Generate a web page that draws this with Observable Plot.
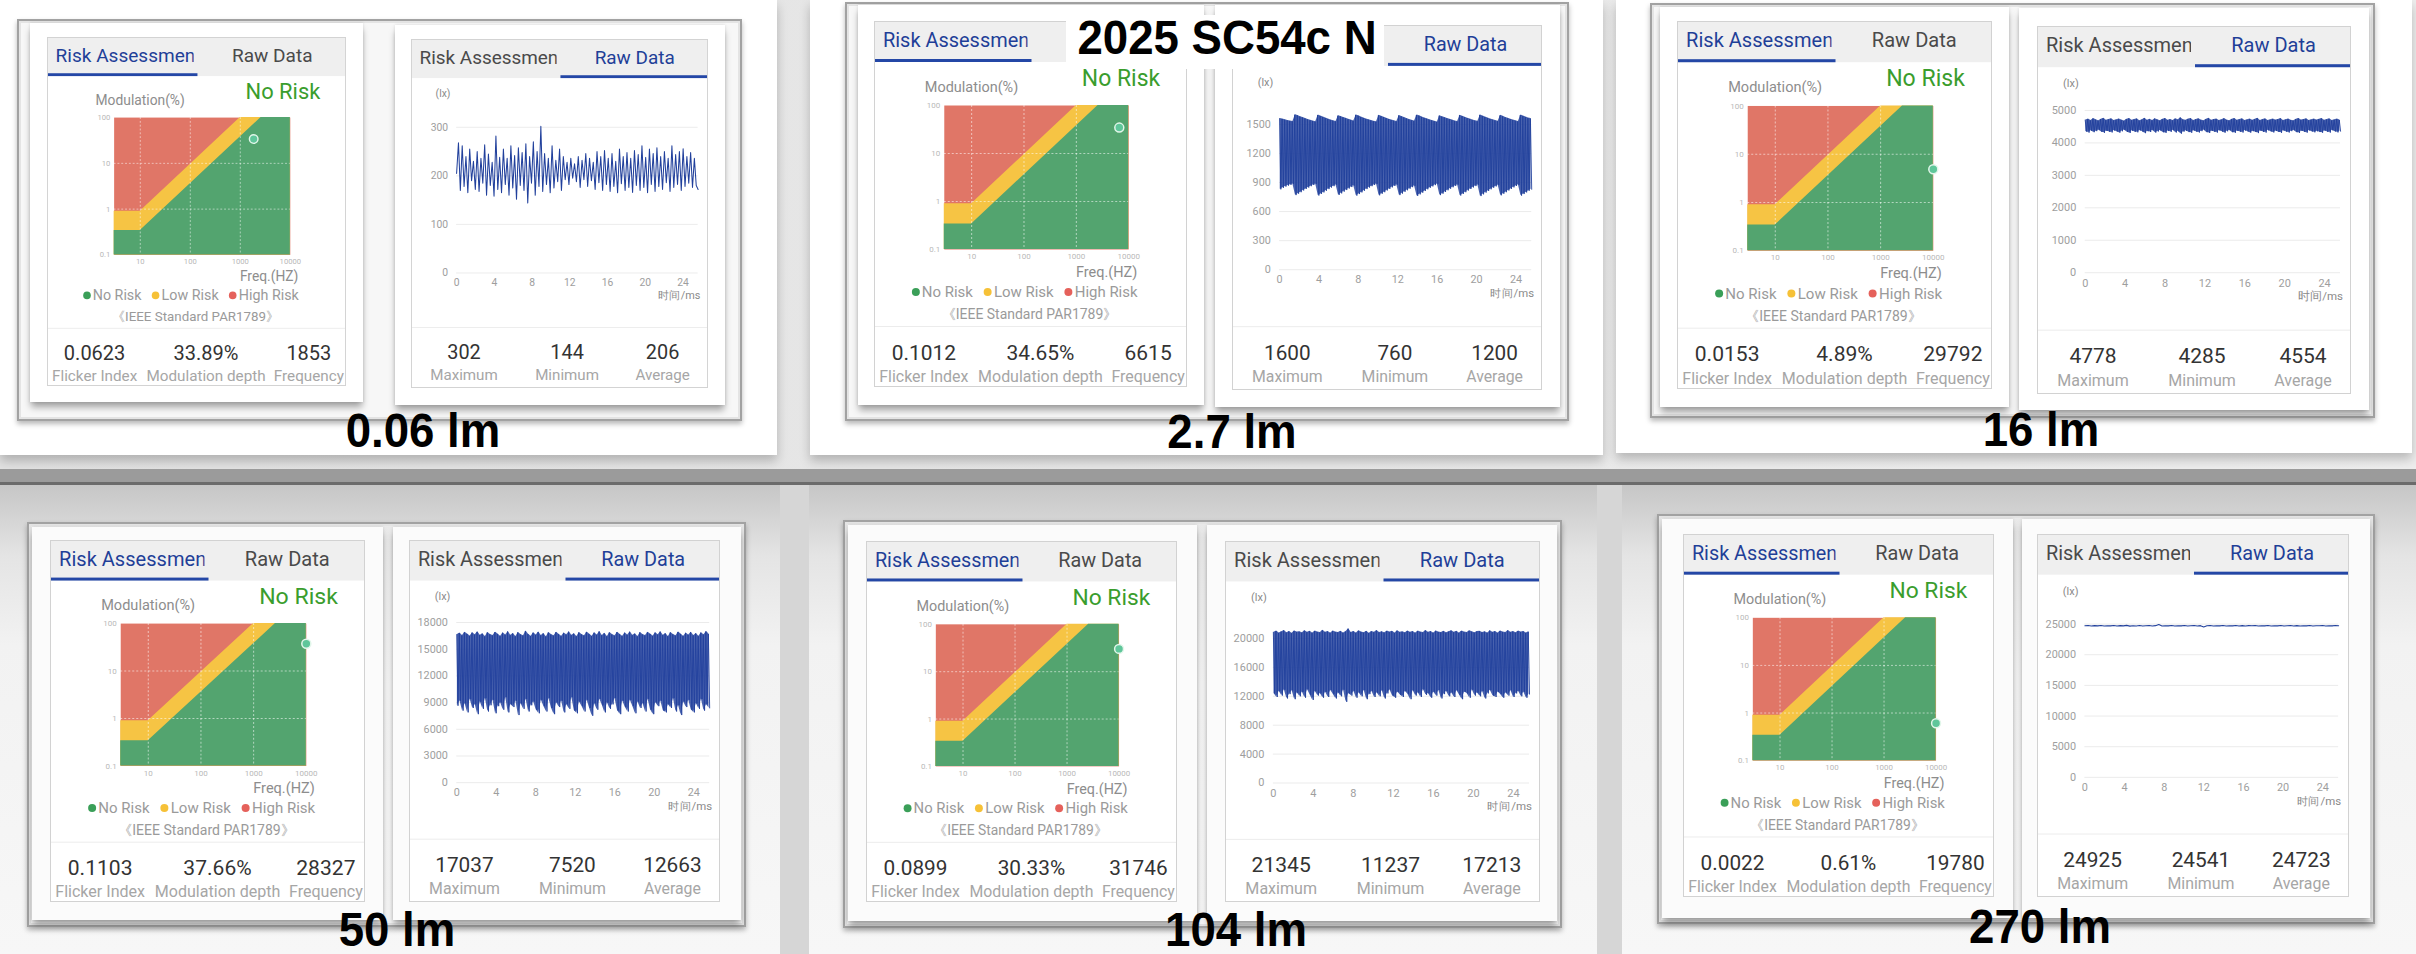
<!DOCTYPE html>
<html><head><meta charset="utf-8">
<script src="https://cdn.jsdelivr.net/npm/d3@7"></script>
<script src="https://cdn.jsdelivr.net/npm/@observablehq/plot@0.6"></script>
<style>
body{margin:0;width:2416px;height:954px;overflow:hidden;background:#e6e6e6;font-family:Roboto,"Noto Sans",sans-serif;}
#page{position:relative;width:2416px;height:954px;overflow:hidden;}
.a{position:absolute;box-sizing:border-box;}
.frame{border:2.5px solid #a2a2a2;box-shadow:inset 0 0 0 2px #e4e4e4,0 3px 5px rgba(0,0,0,.28);}
.wcard{background:#fff;box-shadow:0 6px 7px -1px rgba(0,0,0,.35),0 0 3px rgba(0,0,0,.12);}
.card{position:absolute;width:314px;height:366px;background:#fff;border:1.5px solid #d2d2d2;box-sizing:border-box;transform-origin:0 0;overflow:hidden;}
.hdr{position:absolute;left:0;top:0;width:100%;height:40px;background:#efefef;}
.tab{position:absolute;top:0;height:40px;width:157px;white-space:nowrap;font-size:20px;line-height:37px;color:#4a4a4a;box-sizing:border-box;}
.tab.l{left:0;padding-left:8px;}
.tab.r{left:157px;text-align:center;}
.tab.on{color:#1f3f98;border-bottom:3px solid #2447a6;}
.clip{width:145px;overflow:hidden;}
.t{position:absolute;white-space:nowrap;line-height:1;}
.c{transform:translate(-50%,-50%);}
.sep{position:absolute;left:0;width:100%;height:1px;background:#ececec;}
.dot{display:inline-block;width:8px;height:8px;border-radius:50%;margin-right:2px;vertical-align:1px;}
.lab{position:absolute;font-family:"Liberation Sans",Arial,sans-serif;font-weight:bold;font-size:48px;line-height:1;color:#000;white-space:nowrap;}
svg{overflow:visible;}
</style></head>
<body><div id="page"></div>
<script>
// ---------- data ----------
const lumens = ["0.06 lm", "2.7 lm", "16 lm", "50 lm", "104 lm", "270 lm"];
const riskLevel = ["No Risk", "No Risk", "No Risk", "No Risk", "No Risk", "No Risk"];
const flickerIndex = ["0.0623", "0.1012", "0.0153", "0.1103", "0.0899", "0.0022"];
const modDepth = [33.89, 34.65, 4.89, 37.66, 30.33, 0.61];
const frequency = [1853, 6615, 29792, 28327, 31746, 19780];
const maxLx = [302, 1600, 4778, 17037, 21345, 24925];
const minLx = [144, 760, 4285, 7520, 11237, 24541];
const avgLx = [206, 1200, 4554, 12663, 17213, 24723];
const rawTicks = [
  [0, 100, 200, 300],
  [0, 300, 600, 900, 1200, 1500],
  [0, 1000, 2000, 3000, 4000, 5000],
  [0, 3000, 6000, 9000, 12000, 15000, 18000],
  [0, 4000, 8000, 12000, 16000, 20000],
  [0, 5000, 10000, 15000, 20000, 25000]
];
const rawTop = [318, 1667, 5017, 18000, 22100, 26200];
const timeTicks = [0, 4, 8, 12, 16, 20, 24];
const timeSpan = 25.6;
const riskXTicks = [3, 10, 100, 1000, 10000];
const riskYTicks = [0.1, 1, 10, 100];
const lowRiskFreq = [3, 10, 1000, 10000];
const lowRiskMod = [0.9, 0.9, 100, 100];
const noRiskFreq = [3, 10, 2600, 10000];
const noRiskMod = [0.34, 0.34, 100, 100];
const riskGridX = [10, 100, 1000];
const riskGridY = [1, 10];

const wave006 = [205,268,170,262,178,240,165,255,190,230,172,250,168,236,185,264,160,245,180,228,158,282,172,238,165,255,182,236,160,262,175,242,152,258,180,248,170,266,144,240,185,270,160,250,178,302,168,246,182,236,165,262,175,232,188,255,170,240,192,228,182,236,195,225,188,240,176,232,192,246,178,236,190,228,172,250,186,240,170,252,182,236,168,246,178,230,165,255,184,240,170,248,176,236,166,252,180,244,170,262,176,238,165,255,182,246,168,258,178,240,172,250,186,236,168,262,176,244,182,250,170,256,178,240,185,248,176,236,180,172];
const hi27 = [1560,1555,1548,1540,1535,1530,1600,1592,1580,1570,1560,1550,1542,1535,1528,1596,1586,1575,1565,1555,1546,1538,1530,1590,1582,1572,1562,1552,1544,1536,1598,1588,1576,1566,1556,1548,1540,1532,1526,1594,1584,1574,1564,1554,1545,1537,1530,1592,1582,1570,1560,1550,1542,1534,1597,1588,1577,1567,1557,1548,1540,1532,1525,1590,1580,1570,1561,1552,1544,1536,1529,1595,1585,1574,1564,1555,1546,1538,1531,1598,1587,1576,1566,1556,1547,1539,1532,1593,1583,1572,1562,1553,1545,1537,1530,1596,1586,1575,1565,1560];
const lo27 = [830,845,858,868,876,884,770,785,800,818,833,848,862,874,884,766,782,798,815,832,848,862,876,772,788,806,822,838,853,868,765,781,798,815,832,848,862,874,885,768,784,800,818,834,850,864,877,770,786,804,820,836,852,866,762,778,795,812,830,846,860,873,884,770,785,802,820,836,851,865,878,766,782,800,817,833,849,863,876,760,778,796,813,830,846,860,874,768,784,800,818,834,850,864,876,765,781,798,815,830];
const hi16 = [4702,4735,4690,4748,4712,4680,4726,4756,4698,4720,4744,4688,4710,4739,4702,4676,4731,4752,4695,4718,4740,4684,4712,4760,4700,4726,4692,4745,4714,4682,4730,4755,4701,4722,4688,4741,4709,4778,4716,4694,4733,4750,4689,4720,4745,4702,4680,4728,4756,4699,4721,4737,4690,4713,4748,4705,4684,4731,4752,4696,4719,4742,4688,4711,4736,4700,4726,4760,4693,4717,4740,4686,4709,4734,4703,4724,4750,4691,4715,4738,4699,4681,4727,4754,4702,4720,4743,4692,4712,4736,4704,4729,4751,4695,4718,4741,4687,4710,4733,4706];
const lo16 = [4352,4318,4376,4330,4362,4395,4340,4310,4368,4345,4322,4380,4350,4315,4358,4398,4335,4305,4372,4340,4326,4385,4348,4300,4360,4335,4390,4318,4352,4382,4328,4308,4365,4340,4392,4320,4356,4285,4346,4374,4332,4312,4378,4344,4320,4362,4396,4330,4306,4368,4342,4318,4384,4350,4314,4358,4390,4328,4310,4370,4345,4320,4380,4352,4316,4362,4335,4302,4374,4340,4318,4386,4354,4322,4366,4338,4310,4378,4346,4320,4362,4392,4330,4308,4370,4344,4316,4382,4350,4326,4358,4334,4312,4376,4340,4318,4388,4352,4324,4360];
const hi50 = [16650,16820,16540,16900,16710,16480,16860,16620,16950,16580,16740,16420,16880,16660,16530,16920,16700,16460,16840,16610,16980,16560,16770,16430,16890,16650,16520,17037,16690,16470,16850,16600,16940,16540,16760,16410,16870,16640,16510,16910,16690,16450,16830,16620,16960,16570,16750,16440,16880,16660,16520,16930,16700,16470,16850,16610,16990,16550,16780,16430,16870,16640,16500,16920,16680,16460,16840,16600,16950,16560,16730,16420,16890,16650,16530,16910,16710,16480,16860,16620,16970,16580,16760,16440,16880,16660,16510,16940,16700,16470,16830,16600,16920,16550,16770,16450,16860,16630,16990,16700];
const lo50 = [8650,9200,8100,8900,7900,9400,8400,8800,7700,9100,8300,9500,8000,8700,9300,7800,8600,9000,8200,9600,7900,8800,8500,9200,7600,8900,8300,9400,8000,8700,9100,8200,7800,9300,8600,8000,9500,8400,7700,9000,8500,9200,7900,8800,8300,9600,8100,7800,9100,8600,8000,9300,8400,7520,8900,8200,9400,8700,7900,9000,8300,8800,9500,8100,7700,9200,8500,8000,9300,8600,7800,9100,8400,8900,8000,9400,8200,7700,9000,8600,9200,8100,7900,8800,8400,9500,8000,8700,7600,9100,8500,9300,8200,7900,8900,8300,9400,8100,8800,8400];
const hi104 = [20850,21020,20760,20940,21100,20800,20980,20720,21050,20880,20930,20780,21080,20860,20990,20740,21030,20900,20810,21120,20870,20960,20750,21040,20890,20820,21000,20770,20950,21345,20840,20980,20760,21060,20900,20800,21010,20730,20970,20860,21090,20820,20940,20780,21030,20880,20990,20750,21070,20850,20920,20790,21040,20870,20960,20740,21020,20900,20810,21100,20860,20970,20760,21050,20890,20830,21000,20780,20940,21080,20850,20990,20750,21030,20880,20810,21060,20920,20790,20960,21010,20840,20930,20770,21080,20870,20980,20740,21040,20900,20820,21090,20860,20950,20780,21020,20890,20970,20760,20920];
const lo104 = [12400,11900,12700,12100,12900,11700,12300,12800,11600,12500,12000,12600,11800,12950,12200,11500,12700,12100,12400,11800,12600,11900,12850,12300,11700,12500,12000,12900,11237,12400,12100,12700,11800,12500,12000,12850,11600,12300,12700,11900,12500,12000,12800,11700,12400,12900,12100,11800,12600,12200,11900,12700,12300,11600,12800,12100,12500,11900,12950,12200,12400,11800,12600,12100,12850,11700,12300,12700,12000,12500,11900,12800,12200,11600,12600,12400,11800,12900,12100,12500,12000,12700,11700,12400,12850,12100,11900,12600,12300,11800,12500,12100,12800,11900,12400,12700,12000,12600,11800,12300];
const wave270 = [24720,24760,24690,24745,24705,24780,24680,24735,24710,24770,24695,24750,24715,24790,24670,24740,24700,24765,24685,24730,24760,24700,24745,24925,24690,24735,24715,24775,24680,24740,24705,24760,24690,24725,24770,24700,24745,24541,24730,24760,24695,24740,24710,24780,24685,24735,24715,24765,24700,24750,24690,24745,24720,24770,24680,24735,24705,24760,24695,24740,24715,24775,24690,24730,24760,24700,24745,24685,24735,24710,24765,24695,24740,24720,24780,24690,24735,24705,24760,24720];

// ---------- colours ----------
const RED = "#e07667", YELLOW = "#f6c444", GREEN = "#53a46f", LINE = "#21409c";

// ---------- layout (positions only) ----------
const cells = [
  {frame:[17,19,742,421], wl:[30,23,363,402], wr:[395,25,725,405], cl:[47,37,346,386], cr:[411,39,708,388], lab:[423,431]},
  {frame:[845,2,1569,421], wl:[858,5,1204,405], wr:[1215,5,1560,407], cl:[874,21,1187,387], cr:[1232,25,1542,390], lab:[1232,432]},
  {frame:[1650,3,2375,418], wl:[1660,7,2009,407], wr:[2019,8,2369,410], cl:[1677,21,1992,389], cr:[2037,26,2351,394], lab:[2041,430]},
  {frame:[27,522,746,927], wl:[32,527,383,920], wr:[393,527,741,920], cl:[50,540,365,902], cr:[409,540,720,902], lab:[397,930]},
  {frame:[843,520,1562,928], wl:[848,525,1197,921], wr:[1207,525,1557,921], cl:[866,541,1177,902], cr:[1225,541,1540,902], lab:[1236,930]},
  {frame:[1657,514,2375,924], wl:[1662,519,2013,918], wr:[2022,519,2370,918], cl:[1683,534,1994,897], cr:[2037,534,2349,897], lab:[2040,927]}
];

const page = document.getElementById("page");
function box(cls, r, style) {
  const d = document.createElement("div");
  d.className = "a " + (cls || "");
  d.style.left = r[0] + "px"; d.style.top = r[1] + "px";
  d.style.width = (r[2] - r[0]) + "px"; d.style.height = (r[3] - r[1]) + "px";
  if (style) d.style.cssText += style;
  page.appendChild(d);
  return d;
}

// backgrounds
box("", [0,0,2416,470], "background:linear-gradient(90deg,#e2e2e2,#ededed)");
box("", [0,0,777,455], "background:#fff;box-shadow:0 6px 10px rgba(0,0,0,.22)");
box("", [810,0,1603,455], "background:#fff;box-shadow:0 6px 10px rgba(0,0,0,.22)");
box("", [1616,0,2412,453], "background:#fff;box-shadow:0 6px 10px rgba(0,0,0,.22)");
box("", [0,469,2416,482], "background:#9b9b9b");
box("", [0,482,2416,485], "background:#6b6b6b");
box("", [0,485,2416,954], "background:#d6d6d6");
const rowBg = "background:linear-gradient(180deg,#c6c6c6 0px,#e4e4e4 70px,#f2f2f2 160px,#f7f7f7 100%)";
box("", [0,485,780,954], rowBg);
box("", [809,485,1597,954], rowBg);
box("", [1622,485,2416,954], rowBg);

function centered(parent, text, cx, cy, css) {
  const d = document.createElement("div");
  d.className = "t c";
  d.style.left = cx + "px"; d.style.top = cy + "px";
  d.style.cssText += css;
  d.textContent = text;
  parent.appendChild(d);
  return d;
}

function riskPlot(i) {
  return Plot.plot({
    width: 230, height: 169,
    marginLeft: 29, marginRight: 16, marginTop: 7, marginBottom: 18,
    style: {fontFamily: "Roboto, sans-serif", fontSize: "8px", color: "#b8b8b8", background: "transparent", overflow: "visible"},
    x: {type: "log", domain: [3, 10000], ticks: riskXTicks, tickFormat: d => String(d), tickSize: 0, tickPadding: 4, label: null, clamp: true},
    y: {type: "log", domain: [0.1, 100], ticks: riskYTicks, tickFormat: d => String(d), tickSize: 0, tickPadding: 4, label: null},
    marks: [
      Plot.frame({fill: RED}),
      Plot.areaY(lowRiskFreq.map((f, k) => ({f, m: lowRiskMod[k]})), {x: "f", y1: 0.1, y2: "m", fill: YELLOW}),
      Plot.areaY(noRiskFreq.map((f, k) => ({f, m: noRiskMod[k]})), {x: "f", y1: 0.1, y2: "m", fill: GREEN}),
      Plot.ruleX(riskGridX, {stroke: "#ffffff", strokeOpacity: 0.55, strokeDasharray: "2,2"}),
      Plot.ruleY(riskGridY, {stroke: "#ffffff", strokeOpacity: 0.55, strokeDasharray: "2,2"}),
      Plot.dot([{f: frequency[i], m: modDepth[i]}], {x: "f", y: "m", r: 4.5, fill: "#5fc69a", stroke: "#e2f6ea", strokeWidth: 1.5})
    ]
  });
}

// waveforms: single series, or dense envelope pairs (hi/lo samples alternate)
const waves = [
  {v: wave006},
  {hi: hi27, lo: lo27},
  {hi: hi16, lo: lo16},
  {hi: hi50, lo: lo50},
  {hi: hi104, lo: lo104},
  {v: wave270}
];

function rawPlot(i) {
  const w = waves[i];
  const marks = [Plot.ruleY(rawTicks[i], {stroke: "#ebebeb"})];
  if (w.v) {
    const n = w.v.length;
    const data = w.v.map((v, k) => ({t: k * timeSpan / (n - 1), v}));
    marks.push(Plot.line(data, {x: "t", y: "v", stroke: LINE, strokeWidth: 1.1}));
  } else {
    const n = w.hi.length * 2;
    const dt = timeSpan / (n - 1);
    const band = w.hi.map((h, k) => ({t: 2 * k * dt + dt / 2, hi: h, lo: w.lo[k]}));
    const data = w.hi.flatMap((h, k) => [{t: 2 * k * dt, v: h}, {t: (2 * k + 1) * dt, v: w.lo[k]}]);
    marks.push(Plot.areaY(band, {x: "t", y1: "lo", y2: "hi", fill: LINE, fillOpacity: 0.82}));
    marks.push(Plot.line(data, {x: "t", y: "v", stroke: LINE, strokeWidth: 1, strokeOpacity: 0.9}));
  }
  return Plot.plot({
    width: 314, height: 197,
    marginLeft: 47, marginRight: 10, marginTop: 12, marginBottom: 22,
    style: {fontFamily: "Roboto, sans-serif", fontSize: "11px", color: "#9e9e9e", background: "transparent", overflow: "visible"},
    x: {domain: [0, timeSpan], ticks: timeTicks, tickSize: 0, tickPadding: 6, label: null},
    y: {domain: [0, rawTop[i]], ticks: rawTicks[i], tickFormat: d => String(d), tickSize: 0, tickPadding: 9, label: null},
    marks
  });
}

function makeCard(rect) {
  const [x1, y1, x2, y2] = rect;
  const c = document.createElement("div");
  c.className = "card";
  c.style.left = x1 + "px"; c.style.top = y1 + "px";
  c.style.transform = `scale(${(x2 - x1) / 314},${(y2 - y1) / 366})`;
  page.appendChild(c);
  return c;
}

function leftCard(i, rect) {
  const c = makeCard(rect);
  c.innerHTML = `<div class="hdr"><div class="tab l on"><div class="clip">Risk Assessment</div></div><div class="tab r">Raw Data</div></div>
  <div class="t" style="right:26px;top:45px;font-size:23px;color:#3a9d2d">${riskLevel[i]}</div>
  <div class="t" style="left:50px;top:59px;font-size:14.5px;color:#8d8d8d">Modulation(%)</div>
  <div class="t" style="right:49px;top:244px;font-size:14.5px;color:#8d8d8d">Freq.(HZ)</div>
  <div class="t" style="left:37px;width:226px;top:263px;font-size:15px;color:#9a9a9a;text-align:center"><span class="dot" style="background:#3a9f58"></span>No Risk&nbsp;&nbsp;&nbsp;<span class="dot" style="background:#f6c137"></span>Low Risk&nbsp;&nbsp;&nbsp;<span class="dot" style="background:#e5615b"></span>High Risk</div>
  <div class="sep" style="top:304px"></div>`;
  centered(c, "《IEEE Standard PAR1789》", 155, 292, "font-size:14px;color:#9a9a9a");
  const vals = [flickerIndex[i], modDepth[i].toFixed(2) + "%", String(frequency[i])];
  const labs = ["Flicker Index", "Modulation depth", "Frequency"];
  const xs = [49, 166, 274];
  vals.forEach((v, k) => centered(c, v, xs[k], 331, "font-size:21px;color:#333"));
  labs.forEach((v, k) => centered(c, v, xs[k], 355, "font-size:16px;color:#a6a6a6"));
  const svg = riskPlot(i);
  svg.style.position = "absolute"; svg.style.left = "40px"; svg.style.top = "76px";
  c.appendChild(svg);
}

function rightCard(i, rect) {
  const c = makeCard(rect);
  c.innerHTML = `<div class="hdr"><div class="tab l"><div class="clip">Risk Assessment</div></div><div class="tab r on">Raw Data</div></div>
  <div class="t" style="left:25px;top:51px;font-size:11px;color:#8a8a8a">(lx)</div>
  <div class="t" style="right:7px;top:263px;font-size:11.5px;color:#8a8a8a">时间/ms</div>
  <div class="sep" style="top:301px"></div>`;
  const vals = [maxLx[i], minLx[i], avgLx[i]];
  const labs = ["Maximum", "Minimum", "Average"];
  const xs = [55, 164, 265];
  vals.forEach((v, k) => centered(c, String(v), xs[k], 328, "font-size:21px;color:#333"));
  labs.forEach((v, k) => centered(c, v, xs[k], 352, "font-size:16px;color:#a6a6a6"));
  const svg = rawPlot(i);
  svg.style.position = "absolute"; svg.style.left = "0px"; svg.style.top = "70px";
  c.appendChild(svg);
}

cells.forEach((cell, i) => {
  const inner = i < 3 ? "background:#f7f7f7" : "background:linear-gradient(180deg,#e9e9e9,#f6f6f6 40%,#f8f8f8)";
  box("frame", cell.frame, inner);
  box("wcard", cell.wl, i < 3 ? "" : "background:#fbfbfb");
  box("wcard", cell.wr, i < 3 ? "" : "background:#fbfbfb");
  leftCard(i, cell.cl);
  rightCard(i, cell.cr);
});

// title box and labels on top
box("", [1066,15,1384,69], "background:#fff");
const title = document.createElement("div");
title.className = "lab";
title.textContent = "2025 SC54c N";
title.style.left = "1227px"; title.style.top = "38px";
title.style.transform = "translate(-50%,-50%) scaleX(0.95)";
page.appendChild(title);

cells.forEach((cell, i) => {
  const d = document.createElement("div");
  d.className = "lab";
  d.textContent = lumens[i];
  d.style.left = cell.lab[0] + "px"; d.style.top = cell.lab[1] + "px";
  d.style.transform = "translate(-50%,-50%) scaleX(0.95)";
  page.appendChild(d);
});
</script>
</body></html>
